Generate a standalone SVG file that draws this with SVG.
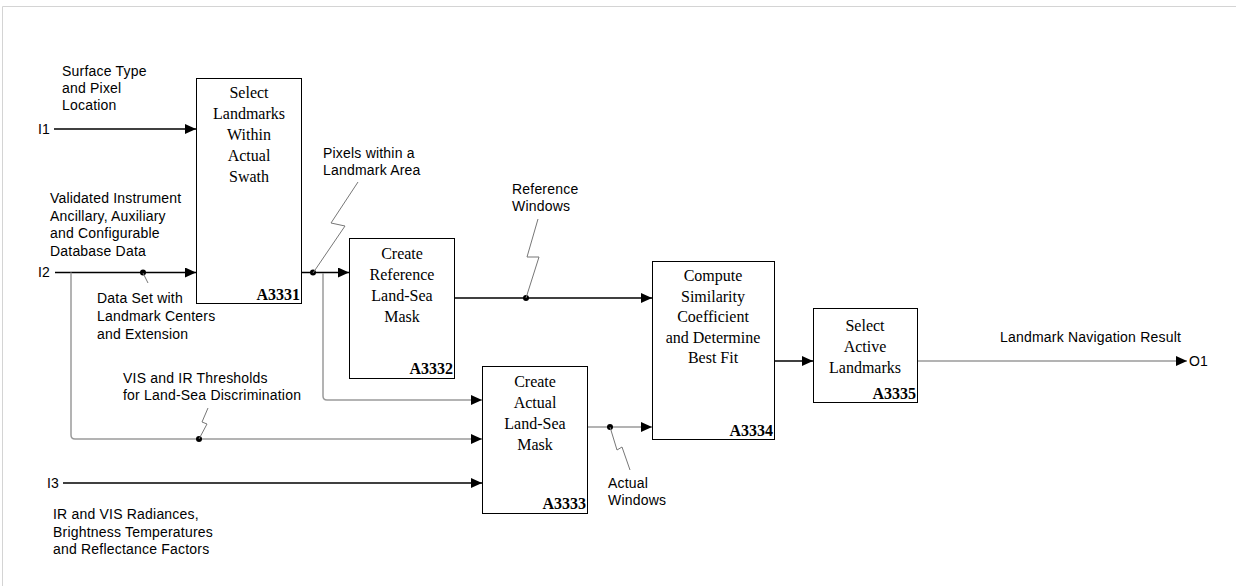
<svg xmlns="http://www.w3.org/2000/svg" width="1236" height="586" viewBox="0 0 1236 586">
<defs>
<marker id="ah" markerWidth="11" markerHeight="10" refX="11" refY="5" orient="auto" markerUnits="userSpaceOnUse">
<path d="M0,0 L11,5 L0,10 Z" fill="#000"/>
</marker>
<style>
.box{fill:#fff;stroke:#000;stroke-width:1}
.t{font-family:"Liberation Serif","Times New Roman",serif;font-size:16px;fill:#000;text-anchor:middle}
.c{font-family:"Liberation Serif","Times New Roman",serif;font-size:16px;font-weight:bold;fill:#000;text-anchor:end}
.s{font-family:"Liberation Sans",Arial,sans-serif;font-size:14px;fill:#000;letter-spacing:0.2px}
.k{fill:none;stroke:#000;stroke-width:1.3}
.g{fill:none;stroke:#9a9a9a;stroke-width:1.5}
.ld{fill:none;stroke:#777;stroke-width:1}
.dot{fill:#000}
</style>
</defs>
<rect x="0" y="0" width="1236" height="586" fill="#fff"/>
<path d="M2.5,586 V6.5 H1236" fill="none" stroke="#d4d4d4" stroke-width="1"/>

<g id="connectors">
<path class="k" d="M54,129 H196" marker-end="url(#ah)"/>
<path class="k" d="M55,272.5 H196" marker-end="url(#ah)"/>
<path class="g" d="M71,272.5 V435 Q71,439 75,439 H482" marker-end="url(#ah)"/>
<path class="k" d="M301,272.5 H349" marker-end="url(#ah)"/>
<path class="g" d="M323,273 V396 Q323,400 327,400 H482" marker-end="url(#ah)"/>
<path class="k" d="M454,298 H652" marker-end="url(#ah)"/>
<path class="k" d="M63,483 H482" marker-end="url(#ah)"/>
<path class="g" d="M587,427 H652" marker-end="url(#ah)"/>
<path class="k" d="M774,361 H813" marker-end="url(#ah)"/>
<path class="g" d="M917,361 H1187" marker-end="url(#ah)"/>
<circle class="dot" cx="143" cy="272.5" r="3"/>
<circle class="dot" cx="313" cy="272.5" r="3"/>
<circle class="dot" cx="526" cy="298" r="3"/>
<circle class="dot" cx="199" cy="439" r="3"/>
<circle class="dot" cx="610" cy="427" r="3"/>
<path class="ld" d="M143,273 L148,283"/>
<path class="ld" d="M313,273 L345,226 L331,223 L358,182"/>
<path class="ld" d="M526,298 L539,257 L527,257 L538,219"/>
<path class="ld" d="M199,439 L207,424 L202,422 L208,408"/>
<path class="ld" d="M610,427 L617,450 L622,447 L630,470"/>
</g>

<g id="A3331">
<rect class="box" x="196.5" y="78.5" width="105" height="225"/>
<text class="t" x="249" y="98">Select</text>
<text class="t" x="249" y="119">Landmarks</text>
<text class="t" x="249" y="140">Within</text>
<text class="t" x="249" y="161">Actual</text>
<text class="t" x="249" y="182">Swath</text>
<text class="c" x="300" y="300">A3331</text>
</g>

<g id="A3332">
<rect class="box" x="349.5" y="238.5" width="105" height="140"/>
<text class="t" x="402" y="259">Create</text>
<text class="t" x="402" y="280">Reference</text>
<text class="t" x="402" y="301">Land-Sea</text>
<text class="t" x="402" y="322">Mask</text>
<text class="c" x="453" y="374">A3332</text>
</g>

<g id="A3333">
<rect class="box" x="482.5" y="366.5" width="105" height="147"/>
<text class="t" x="535" y="387">Create</text>
<text class="t" x="535" y="408">Actual</text>
<text class="t" x="535" y="429">Land-Sea</text>
<text class="t" x="535" y="450">Mask</text>
<text class="c" x="586" y="509">A3333</text>
</g>

<g id="A3334">
<rect class="box" x="652.5" y="261.5" width="122" height="178"/>
<text class="t" x="713" y="281">Compute</text>
<text class="t" x="713" y="302">Similarity</text>
<text class="t" x="713" y="322">Coefficient</text>
<text class="t" x="713" y="343">and Determine</text>
<text class="t" x="713" y="363">Best Fit</text>
<text class="c" x="773" y="436">A3334</text>
</g>

<g id="A3335">
<rect class="box" x="813.5" y="308.5" width="104" height="94"/>
<text class="t" x="865" y="331">Select</text>
<text class="t" x="865" y="352">Active</text>
<text class="t" x="865" y="373">Landmarks</text>
<text class="c" x="916" y="399">A3335</text>
</g>

<g id="labels">
<text class="s" x="62" y="76">Surface Type</text>
<text class="s" x="62" y="93">and Pixel</text>
<text class="s" x="62" y="110">Location</text>
<text class="s" x="38" y="134">I1</text>
<text class="s" x="50" y="203">Validated Instrument</text>
<text class="s" x="50" y="220.5">Ancillary, Auxiliary</text>
<text class="s" x="50" y="238">and Configurable</text>
<text class="s" x="50" y="256">Database Data</text>
<text class="s" x="38" y="277">I2</text>
<text class="s" x="97" y="303">Data Set with</text>
<text class="s" x="97" y="321">Landmark Centers</text>
<text class="s" x="97" y="339">and Extension</text>
<text class="s" x="323" y="158">Pixels within a</text>
<text class="s" x="323" y="175">Landmark Area</text>
<text class="s" x="512" y="194">Reference</text>
<text class="s" x="512" y="211">Windows</text>
<text class="s" x="123" y="383">VIS and IR Thresholds</text>
<text class="s" x="123" y="400">for Land-Sea Discrimination</text>
<text class="s" x="47" y="488">I3</text>
<text class="s" x="53" y="519">IR and VIS Radiances,</text>
<text class="s" x="53" y="537">Brightness Temperatures</text>
<text class="s" x="53" y="554">and Reflectance Factors</text>
<text class="s" x="608" y="488">Actual</text>
<text class="s" x="608" y="505">Windows</text>
<text class="s" x="1000" y="342">Landmark Navigation Result</text>
<text class="s" x="1189" y="366">O1</text>
</g>
</svg>
